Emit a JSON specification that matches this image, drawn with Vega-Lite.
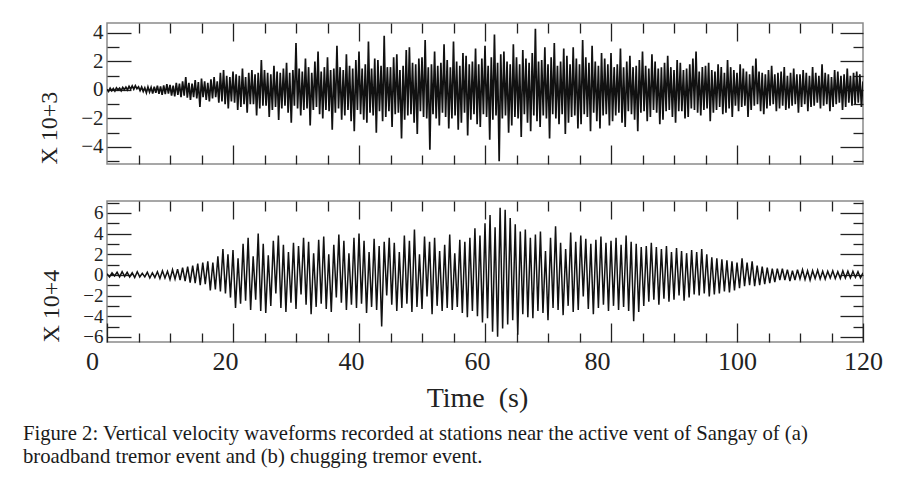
{
"$schema": "https://vega.github.io/schema/vega-lite/v6.json",
"autosize": {"type": "none"},
"padding": {"left": 107, "top": 23, "right": 792, "bottom": 463},
"background": "white",
"datasets": {
"top": [
{"t":0,"v":0.05},{"t":0.25,"v":-0.1},{"t":0.5,"v":0.12},{"t":0.75,"v":-0.05},
{"t":1,"v":0.1},{"t":1.25,"v":-0.08},{"t":1.5,"v":0.15},{"t":1.75,"v":0.0},
{"t":2,"v":0.12},{"t":2.25,"v":-0.05},{"t":2.5,"v":0.18},{"t":2.75,"v":0.02},
{"t":3,"v":0.2},{"t":3.25,"v":0.0},{"t":3.5,"v":0.25},{"t":3.75,"v":0.05},
{"t":4,"v":0.28},{"t":4.25,"v":0.05},{"t":4.5,"v":0.3},{"t":4.75,"v":0.08},
{"t":5,"v":0.22},{"t":5.25,"v":-0.05},{"t":5.5,"v":0.2},{"t":5.75,"v":-0.1},
{"t":6,"v":0.15},{"t":6.25,"v":-0.2},{"t":6.5,"v":0.2},{"t":6.75,"v":-0.15},
{"t":7,"v":0.18},{"t":7.25,"v":-0.25},{"t":7.5,"v":0.22},{"t":7.75,"v":-0.2},
{"t":8,"v":0.3},{"t":8.25,"v":-0.28},{"t":8.5,"v":0.25},{"t":8.75,"v":-0.35},
{"t":9,"v":0.32},{"t":9.25,"v":-0.3},{"t":9.5,"v":0.4},{"t":9.75,"v":-0.25},
{"t":10,"v":0.35},{"t":10.25,"v":-0.4},{"t":10.5,"v":0.3},{"t":10.75,"v":-0.45},
{"t":11,"v":0.5},{"t":11.25,"v":-0.35},{"t":11.5,"v":0.45},{"t":11.75,"v":-0.5},
{"t":12,"v":0.6},{"t":12.25,"v":-0.4},{"t":12.5,"v":0.9},{"t":12.75,"v":-0.55},
{"t":13,"v":0.5},{"t":13.25,"v":-0.7},{"t":13.5,"v":0.45},{"t":13.75,"v":-0.5},
{"t":14,"v":0.7},{"t":14.25,"v":-0.6},{"t":14.5,"v":0.55},{"t":14.75,"v":-1.2},
{"t":15,"v":0.8},{"t":15.25,"v":-0.5},{"t":15.5,"v":0.6},{"t":15.75,"v":-0.7},
{"t":16,"v":0.5},{"t":16.25,"v":-0.8},{"t":16.5,"v":0.75},{"t":16.75,"v":-0.6},
{"t":17,"v":0.9},{"t":17.25,"v":-0.5},{"t":17.5,"v":0.6},{"t":17.75,"v":-0.9},
{"t":18,"v":1.2},{"t":18.25,"v":-0.8},{"t":18.5,"v":1.4},{"t":18.75,"v":-1.0},
{"t":19,"v":1.0},{"t":19.25,"v":-1.3},{"t":19.5,"v":0.9},{"t":19.75,"v":-0.8},
{"t":20,"v":1.3},{"t":20.25,"v":-0.9},{"t":20.5,"v":1.1},{"t":20.75,"v":-1.4},
{"t":21,"v":1.0},{"t":21.25,"v":-1.2},{"t":21.5,"v":1.5},{"t":21.75,"v":-1.0},
{"t":22,"v":0.9},{"t":22.25,"v":-1.6},{"t":22.5,"v":1.2},{"t":22.75,"v":-1.0},
{"t":23,"v":1.4},{"t":23.25,"v":-1.0},{"t":23.5,"v":1.1},{"t":23.75,"v":-1.8},
{"t":24,"v":1.2},{"t":24.25,"v":-1.3},{"t":24.5,"v":2.1},{"t":24.75,"v":-1.1},
{"t":25,"v":1.4},{"t":25.25,"v":-1.1},{"t":25.5,"v":1.2},{"t":25.75,"v":-1.9},
{"t":26,"v":1.1},{"t":26.25,"v":-1.4},{"t":26.5,"v":1.7},{"t":26.75,"v":-1.2},
{"t":27,"v":1.3},{"t":27.25,"v":-2.1},{"t":27.5,"v":1.2},{"t":27.75,"v":-1.3},
{"t":28,"v":1.5},{"t":28.25,"v":-1.1},{"t":28.5,"v":1.9},{"t":28.75,"v":-1.6},
{"t":29,"v":1.2},{"t":29.25,"v":-2.3},{"t":29.5,"v":1.4},{"t":29.75,"v":-1.1},
{"t":30,"v":3.3},{"t":30.25,"v":-1.3},{"t":30.5,"v":1.5},{"t":30.75,"v":-1.8},
{"t":31,"v":1.3},{"t":31.25,"v":-1.4},{"t":31.5,"v":2.2},{"t":31.75,"v":-1.3},
{"t":32,"v":1.6},{"t":32.25,"v":-2.5},{"t":32.5,"v":1.2},{"t":32.75,"v":-1.4},
{"t":33,"v":2.0},{"t":33.25,"v":-1.2},{"t":33.5,"v":2.7},{"t":33.75,"v":-1.7},
{"t":34,"v":1.3},{"t":34.25,"v":-2.0},{"t":34.5,"v":1.6},{"t":34.75,"v":-1.4},
{"t":35,"v":2.3},{"t":35.25,"v":-1.5},{"t":35.5,"v":1.4},{"t":35.75,"v":-2.8},
{"t":36,"v":1.5},{"t":36.25,"v":-1.6},{"t":36.5,"v":3.1},{"t":36.75,"v":-1.3},
{"t":37,"v":1.6},{"t":37.25,"v":-2.1},{"t":37.5,"v":1.4},{"t":37.75,"v":-1.8},
{"t":38,"v":2.5},{"t":38.25,"v":-1.4},{"t":38.5,"v":1.7},{"t":38.75,"v":-2.2},
{"t":39,"v":1.5},{"t":39.25,"v":-2.9},{"t":39.5,"v":2.1},{"t":39.75,"v":-1.4},
{"t":40,"v":2.7},{"t":40.25,"v":-1.7},{"t":40.5,"v":1.5},{"t":40.75,"v":-2.1},
{"t":41,"v":1.8},{"t":41.25,"v":-2.3},{"t":41.5,"v":3.4},{"t":41.75,"v":-1.6},
{"t":42,"v":1.5},{"t":42.25,"v":-1.8},{"t":42.5,"v":2.2},{"t":42.75,"v":-3.0},
{"t":43,"v":2.1},{"t":43.25,"v":-1.5},{"t":43.5,"v":1.7},{"t":43.75,"v":-2.2},
{"t":44,"v":3.8},{"t":44.25,"v":-1.9},{"t":44.5,"v":1.6},{"t":44.75,"v":-1.5},
{"t":45,"v":1.6},{"t":45.25,"v":-2.6},{"t":45.5,"v":2.3},{"t":45.75,"v":-1.7},
{"t":46,"v":2.5},{"t":46.25,"v":-1.6},{"t":46.5,"v":1.4},{"t":46.75,"v":-3.4},
{"t":47,"v":1.7},{"t":47.25,"v":-2.1},{"t":47.5,"v":2.8},{"t":47.75,"v":-1.8},
{"t":48,"v":3.0},{"t":48.25,"v":-1.7},{"t":48.5,"v":1.9},{"t":48.75,"v":-2.3},
{"t":49,"v":1.8},{"t":49.25,"v":-3.1},{"t":49.5,"v":2.2},{"t":49.75,"v":-1.5},
{"t":50,"v":2.3},{"t":50.25,"v":-1.9},{"t":50.5,"v":3.5},{"t":50.75,"v":-2.0},
{"t":51,"v":1.6},{"t":51.25,"v":-4.2},{"t":51.5,"v":1.8},{"t":51.75,"v":-1.7},
{"t":52,"v":2.7},{"t":52.25,"v":-2.0},{"t":52.5,"v":1.7},{"t":52.75,"v":-2.5},
{"t":53,"v":1.9},{"t":53.25,"v":-1.6},{"t":53.5,"v":3.2},{"t":53.75,"v":-1.9},
{"t":54,"v":2.1},{"t":54.25,"v":-2.7},{"t":54.5,"v":1.6},{"t":54.75,"v":-2.0},
{"t":55,"v":3.4},{"t":55.25,"v":-1.8},{"t":55.5,"v":2.0},{"t":55.75,"v":-2.8},
{"t":56,"v":1.7},{"t":56.25,"v":-2.3},{"t":56.5,"v":2.6},{"t":56.75,"v":-1.6},
{"t":57,"v":2.4},{"t":57.25,"v":-3.2},{"t":57.5,"v":1.8},{"t":57.75,"v":-2.1},
{"t":58,"v":2.0},{"t":58.25,"v":-1.7},{"t":58.5,"v":2.9},{"t":58.75,"v":-2.4},
{"t":59,"v":1.8},{"t":59.25,"v":-2.6},{"t":59.5,"v":2.2},{"t":59.75,"v":-1.7},
{"t":60,"v":3.1},{"t":60.25,"v":-1.9},{"t":60.5,"v":1.7},{"t":60.75,"v":-3.5},
{"t":61,"v":2.3},{"t":61.25,"v":-2.1},{"t":61.5,"v":3.9},{"t":61.75,"v":-1.8},
{"t":62,"v":1.9},{"t":62.25,"v":-5.0},{"t":62.5,"v":2.5},{"t":62.75,"v":-2.0},
{"t":63,"v":2.7},{"t":63.25,"v":-1.8},{"t":63.5,"v":2.0},{"t":63.75,"v":-3.0},
{"t":64,"v":1.8},{"t":64.25,"v":-2.5},{"t":64.5,"v":3.2},{"t":64.75,"v":-1.9},
{"t":65,"v":2.3},{"t":65.25,"v":-2.0},{"t":65.5,"v":1.8},{"t":65.75,"v":-3.3},
{"t":66,"v":2.8},{"t":66.25,"v":-1.7},{"t":66.5,"v":2.2},{"t":66.75,"v":-2.3},
{"t":67,"v":1.9},{"t":67.25,"v":-2.9},{"t":67.5,"v":2.6},{"t":67.75,"v":-1.8},
{"t":68,"v":4.3},{"t":68.25,"v":-2.2},{"t":68.5,"v":2.0},{"t":68.75,"v":-2.6},
{"t":69,"v":2.1},{"t":69.25,"v":-1.8},{"t":69.5,"v":3.0},{"t":69.75,"v":-2.0},
{"t":70,"v":1.8},{"t":70.25,"v":-3.4},{"t":70.5,"v":2.3},{"t":70.75,"v":-1.7},
{"t":71,"v":3.3},{"t":71.25,"v":-2.0},{"t":71.5,"v":1.7},{"t":71.75,"v":-2.4},
{"t":72,"v":2.0},{"t":72.25,"v":-1.7},{"t":72.5,"v":2.9},{"t":72.75,"v":-3.1},
{"t":73,"v":2.4},{"t":73.25,"v":-2.3},{"t":73.5,"v":1.8},{"t":73.75,"v":-1.9},
{"t":74,"v":3.0},{"t":74.25,"v":-1.8},{"t":74.5,"v":2.2},{"t":74.75,"v":-2.7},
{"t":75,"v":1.8},{"t":75.25,"v":-2.4},{"t":75.5,"v":3.5},{"t":75.75,"v":-1.7},
{"t":76,"v":2.3},{"t":76.25,"v":-1.9},{"t":76.5,"v":1.9},{"t":76.75,"v":-2.9},
{"t":77,"v":3.1},{"t":77.25,"v":-1.6},{"t":77.5,"v":2.0},{"t":77.75,"v":-2.2},
{"t":78,"v":1.7},{"t":78.25,"v":-2.7},{"t":78.5,"v":2.6},{"t":78.75,"v":-1.8},
{"t":79,"v":2.2},{"t":79.25,"v":-1.7},{"t":79.5,"v":1.8},{"t":79.75,"v":-2.5},
{"t":80,"v":2.6},{"t":80.25,"v":-2.2},{"t":80.5,"v":1.6},{"t":80.75,"v":-1.8},
{"t":81,"v":1.8},{"t":81.25,"v":-1.6},{"t":81.5,"v":2.9},{"t":81.75,"v":-2.3},
{"t":82,"v":1.6},{"t":82.25,"v":-2.6},{"t":82.5,"v":2.0},{"t":82.75,"v":-1.5},
{"t":83,"v":2.4},{"t":83.25,"v":-1.7},{"t":83.5,"v":1.6},{"t":83.75,"v":-2.1},
{"t":84,"v":1.7},{"t":84.25,"v":-2.9},{"t":84.5,"v":2.1},{"t":84.75,"v":-1.6},
{"t":85,"v":2.7},{"t":85.25,"v":-1.5},{"t":85.5,"v":1.7},{"t":85.75,"v":-2.2},
{"t":86,"v":1.5},{"t":86.25,"v":-1.9},{"t":86.5,"v":2.5},{"t":86.75,"v":-1.4},
{"t":87,"v":2.0},{"t":87.25,"v":-1.6},{"t":87.5,"v":1.5},{"t":87.75,"v":-2.4},
{"t":88,"v":1.6},{"t":88.25,"v":-2.1},{"t":88.5,"v":1.9},{"t":88.75,"v":-1.5},
{"t":89,"v":2.4},{"t":89.25,"v":-1.4},{"t":89.5,"v":1.6},{"t":89.75,"v":-1.9},
{"t":90,"v":1.4},{"t":90.25,"v":-2.3},{"t":90.5,"v":2.1},{"t":90.75,"v":-1.5},
{"t":91,"v":1.9},{"t":91.25,"v":-1.5},{"t":91.5,"v":1.4},{"t":91.75,"v":-2.0},
{"t":92,"v":1.5},{"t":92.25,"v":-1.9},{"t":92.5,"v":1.8},{"t":92.75,"v":-1.3},
{"t":93,"v":2.2},{"t":93.25,"v":-1.4},{"t":93.5,"v":2.7},{"t":93.75,"v":-1.6},
{"t":94,"v":1.3},{"t":94.25,"v":-1.8},{"t":94.5,"v":1.6},{"t":94.75,"v":-1.4},
{"t":95,"v":1.7},{"t":95.25,"v":-1.3},{"t":95.5,"v":1.9},{"t":95.75,"v":-2.2},
{"t":96,"v":1.4},{"t":96.25,"v":-1.6},{"t":96.5,"v":1.3},{"t":96.75,"v":-1.4},
{"t":97,"v":1.8},{"t":97.25,"v":-1.2},{"t":97.5,"v":1.6},{"t":97.75,"v":-1.7},
{"t":98,"v":1.2},{"t":98.25,"v":-1.6},{"t":98.5,"v":2.1},{"t":98.75,"v":-1.3},
{"t":99,"v":1.6},{"t":99.25,"v":-1.9},{"t":99.5,"v":1.4},{"t":99.75,"v":-1.1},
{"t":100,"v":1.2},{"t":100.25,"v":-1.5},{"t":100.5,"v":1.8},{"t":100.75,"v":-1.2},
{"t":101,"v":1.5},{"t":101.25,"v":-1.1},{"t":101.5,"v":1.3},{"t":101.75,"v":-1.9},
{"t":102,"v":1.1},{"t":102.25,"v":-1.4},{"t":102.5,"v":1.7},{"t":102.75,"v":-1.1},
{"t":103,"v":2.2},{"t":103.25,"v":-1.0},{"t":103.5,"v":1.3},{"t":103.75,"v":-1.5},
{"t":104,"v":1.2},{"t":104.25,"v":-1.7},{"t":104.5,"v":1.1},{"t":104.75,"v":-1.3},
{"t":105,"v":1.4},{"t":105.25,"v":-1.1},{"t":105.5,"v":1.7},{"t":105.75,"v":-1.0},
{"t":106,"v":1.1},{"t":106.25,"v":-1.5},{"t":106.5,"v":1.2},{"t":106.75,"v":-1.3},
{"t":107,"v":1.3},{"t":107.25,"v":-1.1},{"t":107.5,"v":1.6},{"t":107.75,"v":-1.4},
{"t":108,"v":1.0},{"t":108.25,"v":-1.3},{"t":108.5,"v":1.2},{"t":108.75,"v":-1.1},
{"t":109,"v":1.5},{"t":109.25,"v":-1.0},{"t":109.5,"v":1.1},{"t":109.75,"v":-1.6},
{"t":110,"v":1.1},{"t":110.25,"v":-1.2},{"t":110.5,"v":1.4},{"t":110.75,"v":-1.0},
{"t":111,"v":1.2},{"t":111.25,"v":-1.5},{"t":111.5,"v":1.0},{"t":111.75,"v":-1.2},
{"t":112,"v":1.6},{"t":112.25,"v":-1.1},{"t":112.5,"v":1.2},{"t":112.75,"v":-0.9},
{"t":113,"v":1.0},{"t":113.25,"v":-1.3},{"t":113.5,"v":1.8},{"t":113.75,"v":-1.1},
{"t":114,"v":1.2},{"t":114.25,"v":-1.0},{"t":114.5,"v":1.1},{"t":114.75,"v":-1.5},
{"t":115,"v":0.9},{"t":115.25,"v":-1.2},{"t":115.5,"v":1.4},{"t":115.75,"v":-1.0},
{"t":116,"v":1.3},{"t":116.25,"v":-0.9},{"t":116.5,"v":1.0},{"t":116.75,"v":-1.4},
{"t":117,"v":1.1},{"t":117.25,"v":-1.2},{"t":117.5,"v":1.5},{"t":117.75,"v":-0.9},
{"t":118,"v":1.0},{"t":118.25,"v":-1.1},{"t":118.5,"v":1.2},{"t":118.75,"v":-1.0},
{"t":119,"v":1.3},{"t":119.25,"v":-0.9},{"t":119.5,"v":1.1},{"t":119.75,"v":-1.2},
{"t":120,"v":0.6}
],
"bot": [
{"t":0,"v":0.1},{"t":0.4,"v":-0.2},{"t":0.8,"v":0.2},{"t":1.2,"v":-0.1},{"t":1.6,"v":0.25},
{"t":2,"v":-0.2},{"t":2.4,"v":0.3},{"t":2.8,"v":-0.15},{"t":3.2,"v":0.25},{"t":3.6,"v":-0.2},
{"t":4,"v":0.2},{"t":4.4,"v":-0.25},{"t":4.8,"v":0.3},{"t":5.2,"v":-0.2},{"t":5.6,"v":0.15},
{"t":6,"v":-0.2},{"t":6.4,"v":0.25},{"t":6.8,"v":-0.3},{"t":7.2,"v":0.2},{"t":7.6,"v":-0.25},
{"t":8,"v":0.3},{"t":8.4,"v":-0.35},{"t":8.8,"v":0.4},{"t":9.2,"v":-0.3},{"t":9.6,"v":0.35},
{"t":10,"v":-0.45},{"t":10.4,"v":0.5},{"t":10.8,"v":-0.4},{"t":11.2,"v":0.55},{"t":11.6,"v":-0.5},
{"t":12,"v":0.7},{"t":12.4,"v":-0.6},{"t":12.8,"v":0.8},{"t":13.2,"v":-0.75},{"t":13.6,"v":0.9},
{"t":14,"v":-0.8},{"t":14.4,"v":1.1},{"t":14.8,"v":-1.0},{"t":15.2,"v":1.2},{"t":15.6,"v":-0.9},
{"t":16,"v":1.3},{"t":16.4,"v":-1.5},{"t":16.8,"v":1.2},{"t":17.2,"v":-1.4},{"t":17.6,"v":1.8},
{"t":18,"v":-1.6},{"t":18.4,"v":2.5},{"t":18.8,"v":-1.8},{"t":19.2,"v":2.0},{"t":19.6,"v":-2.2},
{"t":20,"v":2.4},{"t":20.4,"v":-3.2},{"t":20.8,"v":1.6},{"t":21.2,"v":-2.8},{"t":21.6,"v":3.0},
{"t":22,"v":-2.5},{"t":22.4,"v":3.6},{"t":22.8,"v":-3.4},{"t":23.2,"v":1.8},{"t":23.6,"v":-2.4},
{"t":24,"v":4.0},{"t":24.4,"v":-3.5},{"t":24.8,"v":3.0},{"t":25.2,"v":-3.7},{"t":25.6,"v":1.9},
{"t":26,"v":-3.0},{"t":26.4,"v":3.3},{"t":26.8,"v":-1.8},{"t":27.2,"v":3.8},{"t":27.6,"v":-3.2},
{"t":28,"v":2.9},{"t":28.4,"v":-3.6},{"t":28.8,"v":2.2},{"t":29.2,"v":-2.7},{"t":29.6,"v":3.1},
{"t":30,"v":-3.3},{"t":30.4,"v":2.8},{"t":30.8,"v":-1.9},{"t":31.2,"v":3.6},{"t":31.6,"v":-2.9},
{"t":32,"v":3.2},{"t":32.4,"v":-3.8},{"t":32.8,"v":2.1},{"t":33.2,"v":-3.1},{"t":33.6,"v":3.4},
{"t":34,"v":-2.8},{"t":34.4,"v":3.7},{"t":34.8,"v":-3.3},{"t":35.2,"v":2.0},{"t":35.6,"v":-3.6},
{"t":36,"v":2.9},{"t":36.4,"v":-2.2},{"t":36.8,"v":3.9},{"t":37.2,"v":-2.7},{"t":37.6,"v":3.3},
{"t":38,"v":-3.4},{"t":38.4,"v":2.1},{"t":38.8,"v":-2.9},{"t":39.2,"v":3.6},{"t":39.6,"v":-3.2},
{"t":40,"v":4.0},{"t":40.4,"v":-2.8},{"t":40.8,"v":3.3},{"t":41.2,"v":-3.7},{"t":41.6,"v":2.2},
{"t":42,"v":-3.1},{"t":42.4,"v":3.5},{"t":42.8,"v":-3.4},{"t":43.2,"v":2.8},{"t":43.6,"v":-5.0},
{"t":44,"v":3.2},{"t":44.4,"v":-2.0},{"t":44.8,"v":3.6},{"t":45.2,"v":-2.9},{"t":45.6,"v":3.1},
{"t":46,"v":-3.5},{"t":46.4,"v":2.2},{"t":46.8,"v":-3.2},{"t":47.2,"v":3.8},{"t":47.6,"v":-2.8},
{"t":48,"v":3.3},{"t":48.4,"v":-3.6},{"t":48.8,"v":4.4},{"t":49.2,"v":-3.1},{"t":49.6,"v":2.0},
{"t":50,"v":-3.3},{"t":50.4,"v":3.7},{"t":50.8,"v":-2.1},{"t":51.2,"v":3.2},{"t":51.6,"v":-3.8},
{"t":52,"v":3.6},{"t":52.4,"v":-3.0},{"t":52.8,"v":2.3},{"t":53.2,"v":-3.5},{"t":53.6,"v":2.9},
{"t":54,"v":-3.2},{"t":54.4,"v":3.9},{"t":54.8,"v":-3.4},{"t":55.2,"v":2.1},{"t":55.6,"v":-3.1},
{"t":56,"v":3.4},{"t":56.4,"v":-3.7},{"t":56.8,"v":3.2},{"t":57.2,"v":-4.1},{"t":57.6,"v":3.6},
{"t":58,"v":-3.5},{"t":58.4,"v":4.5},{"t":58.8,"v":-4.0},{"t":59.2,"v":3.8},{"t":59.6,"v":-4.6},
{"t":60,"v":5.0},{"t":60.4,"v":-4.2},{"t":60.8,"v":5.8},{"t":61.2,"v":-5.5},{"t":61.6,"v":4.6},
{"t":62,"v":-6.0},{"t":62.4,"v":6.5},{"t":62.8,"v":-5.2},{"t":63.2,"v":6.3},{"t":63.6,"v":-4.8},
{"t":64,"v":5.5},{"t":64.4,"v":-4.4},{"t":64.8,"v":4.9},{"t":65.2,"v":-5.8},{"t":65.6,"v":4.2},
{"t":66,"v":-3.8},{"t":66.4,"v":4.4},{"t":66.8,"v":-4.1},{"t":67.2,"v":3.6},{"t":67.6,"v":-4.2},
{"t":68,"v":3.9},{"t":68.4,"v":-3.5},{"t":68.8,"v":4.2},{"t":69.2,"v":-3.7},{"t":69.6,"v":2.3},
{"t":70,"v":-4.4},{"t":70.4,"v":3.6},{"t":70.8,"v":-3.2},{"t":71.2,"v":4.7},{"t":71.6,"v":-3.4},
{"t":72,"v":3.1},{"t":72.4,"v":-3.9},{"t":72.8,"v":2.5},{"t":73.2,"v":-3.0},{"t":73.6,"v":4.1},
{"t":74,"v":-3.6},{"t":74.4,"v":3.2},{"t":74.8,"v":-3.4},{"t":75.2,"v":3.8},{"t":75.6,"v":-2.1},
{"t":76,"v":3.5},{"t":76.4,"v":-3.3},{"t":76.8,"v":3.0},{"t":77.2,"v":-3.8},{"t":77.6,"v":3.4},
{"t":78,"v":-3.2},{"t":78.4,"v":3.7},{"t":78.8,"v":-2.9},{"t":79.2,"v":3.1},{"t":79.6,"v":-3.5},
{"t":80,"v":3.3},{"t":80.4,"v":-3.0},{"t":80.8,"v":3.6},{"t":81.2,"v":-3.4},{"t":81.6,"v":2.9},
{"t":82,"v":-3.1},{"t":82.4,"v":3.8},{"t":82.8,"v":-3.5},{"t":83.2,"v":3.2},{"t":83.6,"v":-4.5},
{"t":84,"v":3.0},{"t":84.4,"v":-3.6},{"t":84.8,"v":2.7},{"t":85.2,"v":-3.0},{"t":85.6,"v":2.8},
{"t":86,"v":-2.6},{"t":86.4,"v":3.1},{"t":86.8,"v":-2.4},{"t":87.2,"v":2.7},{"t":87.6,"v":-2.9},
{"t":88,"v":2.5},{"t":88.4,"v":-2.3},{"t":88.8,"v":2.8},{"t":89.2,"v":-2.6},{"t":89.6,"v":2.2},
{"t":90,"v":-2.4},{"t":90.4,"v":2.6},{"t":90.8,"v":-2.0},{"t":91.2,"v":2.3},{"t":91.6,"v":-2.5},
{"t":92,"v":2.1},{"t":92.4,"v":-2.2},{"t":92.8,"v":2.4},{"t":93.2,"v":-1.9},{"t":93.6,"v":2.2},
{"t":94,"v":-2.0},{"t":94.4,"v":2.5},{"t":94.8,"v":-1.8},{"t":95.2,"v":2.0},{"t":95.6,"v":-2.1},
{"t":96,"v":1.7},{"t":96.4,"v":-1.9},{"t":96.8,"v":1.6},{"t":97.2,"v":-1.8},{"t":97.6,"v":1.5},
{"t":98,"v":-1.6},{"t":98.4,"v":1.4},{"t":98.8,"v":-1.7},{"t":99.2,"v":1.3},{"t":99.6,"v":-1.5},
{"t":100,"v":1.2},{"t":100.4,"v":-1.3},{"t":100.8,"v":1.6},{"t":101.2,"v":-1.1},{"t":101.6,"v":1.2},
{"t":102,"v":-1.0},{"t":102.4,"v":1.3},{"t":102.8,"v":-1.1},{"t":103.2,"v":0.9},{"t":103.6,"v":-1.0},
{"t":104,"v":0.8},{"t":104.4,"v":-0.9},{"t":104.8,"v":0.7},{"t":105.2,"v":-0.8},{"t":105.6,"v":0.6},
{"t":106,"v":-0.7},{"t":106.4,"v":0.6},{"t":106.8,"v":-0.5},{"t":107.2,"v":0.6},{"t":107.6,"v":-0.5},
{"t":108,"v":0.5},{"t":108.4,"v":-0.6},{"t":108.8,"v":0.4},{"t":109.2,"v":-0.5},{"t":109.6,"v":0.5},
{"t":110,"v":-0.4},{"t":110.4,"v":0.5},{"t":110.8,"v":-0.45},{"t":111.2,"v":0.4},{"t":111.6,"v":-0.5},
{"t":112,"v":0.4},{"t":112.4,"v":-0.35},{"t":112.8,"v":0.45},{"t":113.2,"v":-0.4},{"t":113.6,"v":0.35},
{"t":114,"v":-0.4},{"t":114.4,"v":0.35},{"t":114.8,"v":-0.3},{"t":115.2,"v":0.4},{"t":115.6,"v":-0.35},
{"t":116,"v":0.3},{"t":116.4,"v":-0.35},{"t":116.8,"v":0.4},{"t":117.2,"v":-0.3},{"t":117.6,"v":0.35},
{"t":118,"v":-0.3},{"t":118.4,"v":0.35},{"t":118.8,"v":-0.25},{"t":119.2,"v":0.3},{"t":119.6,"v":-0.3},
{"t":120,"v":0.2}
]
},
"title": {
"text": ["Figure 2: Vertical velocity waveforms recorded at stations near the active vent of Sangay of (a)", "broadband tremor event and (b) chugging tremor event."],
"orient": "bottom", "anchor": "start", "frame": "bounds",
"font": "Liberation Serif", "fontSize": 20.7, "fontWeight": "normal", "color": "#1a1a1a",
"lineHeight": 23, "offset": 11, "dx": -14
},
"spacing": 33,
"vconcat": [
{
"width": 756, "height": 141,
"data": {"name": "top"},
"layer": [
{"mark": {"type": "line", "color": "#111", "strokeWidth": 1.7, "clip": true},
 "encoding": {
  "x": {"field": "t", "type": "quantitative", "scale": {"domain": [0, 120], "nice": false, "zero": false},
        "axis": {"orient": "bottom", "values": [20, 40, 60, 80, 100], "tickSize": -19, "labels": false, "title": null}},
  "y": {"field": "v", "type": "quantitative", "scale": {"domain": [-5.2, 4.7], "nice": false, "zero": false},
        "axis": {"orient": "left", "values": [-4, -2, 0, 2, 4], "tickSize": -24, "labelPadding": 28, "labelFontSize": 21,
                 "title": "X 10+3", "titleAnchor": "start", "titlePadding": 19}}
 }},
{"mark": {"type": "line", "opacity": 0},
 "encoding": {
  "x": {"field": "t", "type": "quantitative", "axis": {"orient": "bottom", "values": [5,10,15,25,30,35,45,50,55,65,70,75,85,90,95,105,110,115], "tickSize": -9, "labels": false, "title": null}},
  "y": {"field": "v", "type": "quantitative", "axis": {"orient": "left", "values": [-5,-3,-1,1,3], "tickSize": -12, "labels": false, "title": null}}
 }},
{"mark": {"type": "line", "opacity": 0},
 "encoding": {
  "x": {"field": "t", "type": "quantitative", "axis": {"orient": "top", "values": [20, 40, 60, 80, 100], "tickSize": -18, "labels": false, "title": null}},
  "y": {"field": "v", "type": "quantitative", "axis": {"orient": "right", "values": [-4, -2, 0, 2, 4], "tickSize": -23, "labels": false, "title": null}}
 }},
{"mark": {"type": "line", "opacity": 0},
 "encoding": {
  "x": {"field": "t", "type": "quantitative", "axis": {"orient": "top", "values": [5,10,15,25,30,35,45,50,55,65,70,75,85,90,95,105,110,115], "tickSize": -10, "labels": false, "title": null}},
  "y": {"field": "v", "type": "quantitative", "axis": {"orient": "right", "values": [-5,-3,-1,1,3], "tickSize": -10, "labels": false, "title": null}}
 }}
],
"resolve": {"axis": {"x": "independent", "y": "independent"}}
},
{
"width": 756, "height": 141,
"data": {"name": "bot"},
"layer": [
{"mark": {"type": "line", "color": "#111", "strokeWidth": 1.5, "clip": true},
 "encoding": {
  "x": {"field": "t", "type": "quantitative", "scale": {"domain": [0, 120], "nice": false, "zero": false},
        "axis": {"orient": "bottom", "values": [0, 20, 40, 60, 80, 100, 120], "tickSize": -19, "labelPadding": 25, "labelFontSize": 26,
                 "labelOffset": {"condition": [{"test": "datum.value === 0", "value": -15}, {"test": "datum.value === 80", "value": -14}, {"test": "datum.value >= 100", "value": 0}], "value": -8},
                 "title": "Time\u00a0\u00a0(s)", "titleFontSize": 28, "titlePadding": 10, "titleX": 370}},
  "y": {"field": "v", "type": "quantitative", "scale": {"domain": [-6.5, 7.15], "nice": false, "zero": false},
        "axis": {"orient": "left", "values": [-6, -4, -2, 0, 2, 4, 6], "tickSize": -24, "labelPadding": 28, "labelFontSize": 19,
                 "title": "X 10+4", "titleAnchor": "start", "titlePadding": 19}}
 }},
{"mark": {"type": "line", "opacity": 0},
 "encoding": {
  "x": {"field": "t", "type": "quantitative", "axis": {"orient": "bottom", "values": [5,10,15,25,30,35,45,50,55,65,70,75,85,90,95,105,110,115], "tickSize": -9, "labels": false, "title": null}},
  "y": {"field": "v", "type": "quantitative", "axis": {"orient": "left", "values": [-5,-3,-1,1,3,5,7], "tickSize": -12, "labels": false, "title": null}}
 }},
{"mark": {"type": "line", "opacity": 0},
 "encoding": {
  "x": {"field": "t", "type": "quantitative", "axis": {"orient": "top", "values": [20, 40, 60, 80, 100], "tickSize": -18, "labels": false, "title": null}},
  "y": {"field": "v", "type": "quantitative", "axis": {"orient": "right", "values": [-6, -4, -2, 0, 2, 4, 6], "tickSize": -23, "labels": false, "title": null}}
 }},
{"mark": {"type": "line", "opacity": 0},
 "encoding": {
  "x": {"field": "t", "type": "quantitative", "axis": {"orient": "top", "values": [5,10,15,25,30,35,45,50,55,65,70,75,85,90,95,105,110,115], "tickSize": -10, "labels": false, "title": null}},
  "y": {"field": "v", "type": "quantitative", "axis": {"orient": "right", "values": [-5,-3,-1,1,3,5,7], "tickSize": -10, "labels": false, "title": null}}
 }}
],
"resolve": {"axis": {"x": "independent", "y": "independent"}}
}
],
"config": {
"view": {"stroke": "#8a8a8a", "strokeWidth": 1.5},
"axis": {
 "domain": false, "grid": false, "tickColor": "#222", "tickWidth": 1.3,
 "labelFont": "Liberation Serif", "labelColor": "#222", "labelFlush": false, "labelOverlap": false,
 "titleFont": "Liberation Serif", "titleFontWeight": "normal", "titleColor": "#222", "titleFontSize": 24
}
}
}
